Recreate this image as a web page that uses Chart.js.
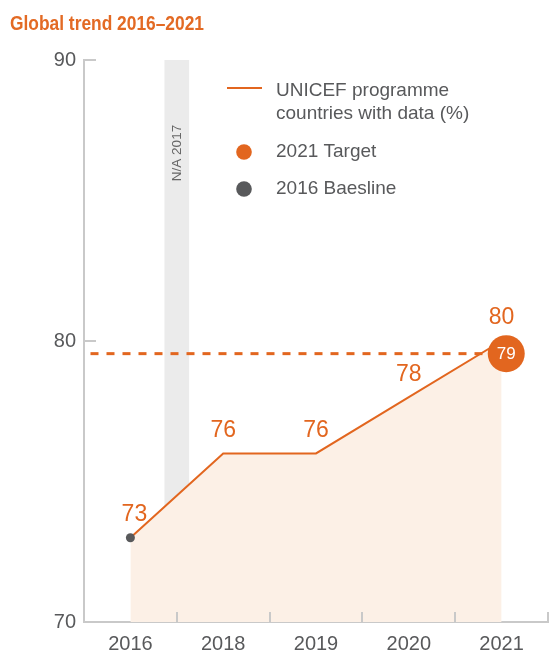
<!DOCTYPE html>
<html><head><meta charset="utf-8">
<script src="https://cdn.jsdelivr.net/npm/chart.js@4/dist/chart.umd.min.js"></script>
<style>html,body{margin:0;padding:0;background:#fff;} #wrap{position:relative;width:549px;height:652px;}</style>
</head><body><div id="wrap"><canvas id="c" width="549" height="652"></canvas></div>
<script>
const title = 'Global trend 2016–2021';
const years = ['2016','2018','2019','2020','2021'];
const programmeValues = [73,76,76,78,80];
const valueLabels = ['73','76','76','78','80'];
const yTicks = [70,80,90];
const targetYear = '2021';
const targetLabel = '79';
const targetLevel = 79.55;   // level at which the target marker / dashed line sit in the picture
const baselineYear = '2016';
const baselineValue = 73;
const gapLabel = 'N/A 2017';
const gapPosition = 0.5;     // between the 2016 and 2018 categories
const legendLabels = [['UNICEF programme','countries with data (%)'],['2021 Target'],['2016 Baesline']];

const ORANGE = '#e2661f';
const GREY_TXT = '#58595b';
const AXIS = '#c9c9c9';
const FONT = '"Liberation Sans", Arial, sans-serif';
const targetIdx = years.indexOf(targetYear);

const overlay = {
  id: 'overlay',
  afterDraw(chart) {
    const ctx = chart.ctx, xs = chart.scales.x, x2 = chart.scales.x2, ys = chart.scales.y, ca = chart.chartArea;
    ctx.save();
    // inward tick marks
    ctx.strokeStyle = AXIS; ctx.lineWidth = 2;
    for (let i = 0; i < years.length; i++) {
      const px = Math.round(x2.getPixelForValue(i + 0.5));
      ctx.beginPath(); ctx.moveTo(px, ca.bottom); ctx.lineTo(px, ca.bottom - 10); ctx.stroke();
    }
    yTicks.slice(1).forEach(v => {
      const py = Math.round(ys.getPixelForValue(v));
      ctx.beginPath(); ctx.moveTo(ca.left, py); ctx.lineTo(ca.left + 12, py); ctx.stroke();
    });
    // value labels
    ctx.fillStyle = ORANGE; ctx.font = '23px ' + FONT; ctx.textAlign = 'center'; ctx.textBaseline = 'middle';
    programmeValues.forEach((v, i) => {
      const px = xs.getPixelForValue(i), py = ys.getPixelForValue(v);
      ctx.fillText(valueLabels[i], px + (i === 0 ? 4 : 0), py - 23);
    });
    // target label
    ctx.fillStyle = '#fff'; ctx.font = '17px ' + FONT;
    ctx.fillText(targetLabel, x2.getPixelForValue(targetIdx + 0.05), ys.getPixelForValue(targetLevel) + 1);
    // gap label
    ctx.save();
    ctx.translate(x2.getPixelForValue(gapPosition), 153);
    ctx.rotate(-Math.PI / 2);
    ctx.fillStyle = '#666'; ctx.font = '13.5px ' + FONT;
    ctx.fillText(gapLabel, 0, 0);
    ctx.restore();
    // legend
    ctx.textAlign = 'left'; ctx.fillStyle = GREY_TXT; ctx.font = '19px ' + FONT;
    ctx.strokeStyle = ORANGE; ctx.lineWidth = 2;
    ctx.beginPath(); ctx.moveTo(227, 88); ctx.lineTo(262, 88); ctx.stroke();
    ctx.fillText(legendLabels[0][0], 276, 91);
    ctx.fillText(legendLabels[0][1], 276, 114);
    ctx.fillText(legendLabels[1][0], 276, 152);
    ctx.fillText(legendLabels[2][0], 276, 189);
    ctx.fillStyle = ORANGE; ctx.beginPath(); ctx.arc(244, 152, 7.8, 0, Math.PI * 2); ctx.fill();
    ctx.fillStyle = '#58595b'; ctx.beginPath(); ctx.arc(244, 189, 7.8, 0, Math.PI * 2); ctx.fill();
    // title (condensed by horizontal scaling)
    ctx.fillStyle = '#e36a24'; ctx.font = 'bold 21px ' + FONT;
    ctx.textBaseline = 'alphabetic';
    const w = ctx.measureText(title).width;
    ctx.translate(10, 30); ctx.scale(194 / w, 1);
    ctx.fillText(title, 0, 0);
    ctx.restore();
  }
};

new Chart(document.getElementById('c'), {
  type: 'line',
  data: {
    labels: years,
    datasets: [
      { type: 'bar', xAxisID: 'x2', data: [{ x: gapPosition, y: [yTicks[0], yTicks[yTicks.length - 1]] }],
        backgroundColor: '#ebebeb', barThickness: 24, grouped: false, order: 6 },
      { type: 'line', xAxisID: 'x', data: programmeValues, borderColor: ORANGE, borderWidth: 2,
        backgroundColor: '#fcf0e6', fill: 'start', pointRadius: 0, tension: 0, order: 5 },
      { type: 'line', xAxisID: 'x2', data: [{ x: -0.43, y: targetLevel }, { x: targetIdx + 0.05, y: targetLevel }],
        borderColor: ORANGE, borderWidth: 3, borderDash: [8, 8], pointRadius: 0, fill: false, order: 4, clip: false },
      { type: 'scatter', xAxisID: 'x2', data: [{ x: targetIdx + 0.05, y: targetLevel }],
        backgroundColor: ORANGE, borderWidth: 0, pointRadius: 18.5, order: 1 },
      { type: 'scatter', xAxisID: 'x', data: [{ x: baselineYear, y: baselineValue }],
        backgroundColor: '#58595b', borderWidth: 0, pointRadius: 4.5, order: 2 }
    ]
  },
  options: {
    responsive: false, animation: false, events: [],
    layout: { autoPadding: false, padding: { top: 60, right: 1, left: 0, bottom: 0 } },
    plugins: { legend: { display: false }, tooltip: { enabled: false } },
    scales: {
      x: { type: 'category', offset: true,
        grid: { display: true, drawOnChartArea: false, drawTicks: false },
        border: { color: AXIS, width: 2 },
        ticks: { color: GREY_TXT, font: { size: 20, family: FONT }, padding: 10 },
        afterFit: s => { s.height = 30; } },
      x2: { type: 'linear', min: -0.5, max: years.length - 0.5, display: false, offset: false, grid: { offset: false } },
      y: { min: yTicks[0], max: yTicks[yTicks.length - 1],
        afterBuildTicks: s => { s.ticks = yTicks.map(v => ({ value: v })); },
        grid: { display: true, drawOnChartArea: false, drawTicks: false },
        border: { color: AXIS, width: 2 },
        ticks: { color: GREY_TXT, font: { size: 20, family: FONT }, padding: 8 },
        afterFit: s => { s.width = 84; } }
    }
  },
  plugins: [overlay]
});
</script></body></html>
